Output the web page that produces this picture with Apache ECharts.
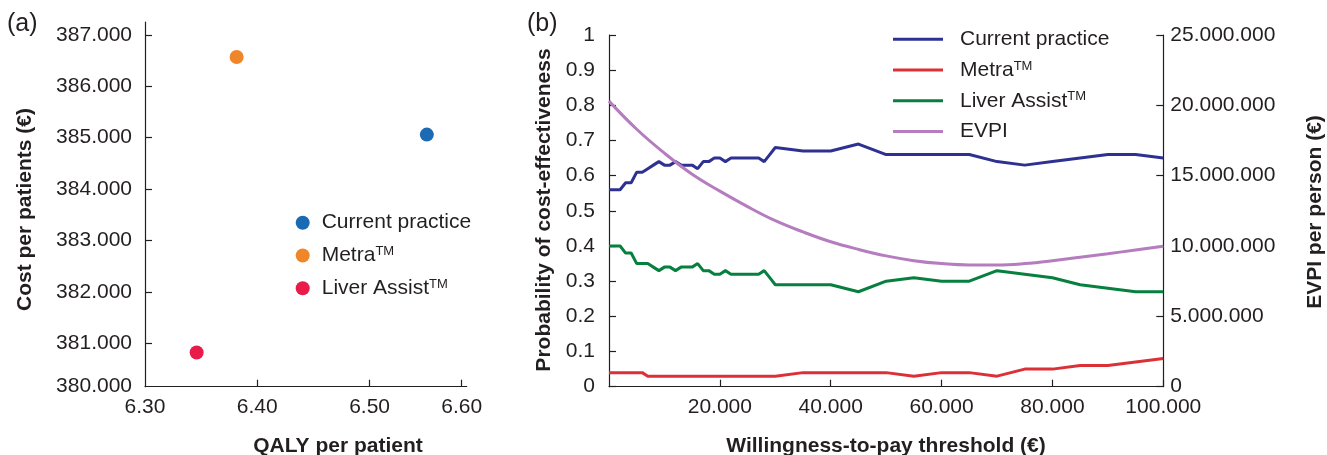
<!DOCTYPE html>
<html>
<head>
<meta charset="utf-8">
<script src="https://cdn.jsdelivr.net/npm/echarts@6/dist/echarts.min.js"></script>
<style>
  html, body { margin: 0; padding: 0; background: #fff; }
  #chart { width: 1327px; height: 455px; }
</style>
</head>
<body>
<div id="chart"></div>
<script>
// ---- panel (a): cost vs QALY ----
const strategies = ['Current practice', 'Metra', 'Liver Assist'];
const qaly = [6.551, 6.3816, 6.346];
const cost = [385060, 386570, 380820];
// tick marks as drawn in the source figure (end ticks sit off the regular step)
const qalyTicks = [6.30, 6.40, 6.50, 6.582];
const qalyTickLabels = ['6.30', '6.40', '6.50', '6.60'];
const costTicks = [380156, 381000, 382000, 383000, 384000, 385000, 386000, 387000];
const costTickLabels = ['380.000', '381.000', '382.000', '383.000', '384.000', '385.000', '386.000', '387.000'];

// ---- panel (b): acceptability curves + EVPI ----
const wtp = [0, 1000, 2000, 3000, 4000, 5000, 6000, 7000, 8000, 9000, 10000,
  11000, 12000, 13000, 14000, 15000, 16000, 17000, 18000, 19000, 20000,
  21000, 22000, 23000, 24000, 25000, 26000, 27000, 28000, 29000, 30000,
  35000, 40000, 45000, 50000, 55000, 60000, 65000, 70000, 75000, 80000,
  85000, 90000, 95000, 100000];
const currentPractice = [0.56, 0.56, 0.56, 0.58, 0.58, 0.61, 0.61, 0.62, 0.63, 0.64, 0.63,
  0.63, 0.64, 0.63, 0.63, 0.63, 0.62, 0.64, 0.64, 0.65, 0.65,
  0.64, 0.65, 0.65, 0.65, 0.65, 0.65, 0.65, 0.64, 0.66, 0.68,
  0.67, 0.67, 0.69, 0.66, 0.66, 0.66, 0.66, 0.64, 0.63, 0.64,
  0.65, 0.66, 0.66, 0.65];
const metra = [0.04, 0.04, 0.04, 0.04, 0.04, 0.04, 0.04, 0.03, 0.03, 0.03, 0.03,
  0.03, 0.03, 0.03, 0.03, 0.03, 0.03, 0.03, 0.03, 0.03, 0.03,
  0.03, 0.03, 0.03, 0.03, 0.03, 0.03, 0.03, 0.03, 0.03, 0.03,
  0.04, 0.04, 0.04, 0.04, 0.03, 0.04, 0.04, 0.03, 0.05, 0.05,
  0.06, 0.06, 0.07, 0.08];
const liverAssist = [0.40, 0.40, 0.40, 0.38, 0.38, 0.35, 0.35, 0.35, 0.34, 0.33, 0.34,
  0.34, 0.33, 0.34, 0.34, 0.34, 0.35, 0.33, 0.33, 0.32, 0.32,
  0.33, 0.32, 0.32, 0.32, 0.32, 0.32, 0.32, 0.33, 0.31, 0.29,
  0.29, 0.29, 0.27, 0.30, 0.31, 0.30, 0.30, 0.33, 0.32, 0.31,
  0.29, 0.28, 0.27, 0.27];
const evpiWtp = [0, 5000, 10000, 15000, 20000, 25000, 30000, 35000, 40000, 45000, 50000,
  55000, 60000, 65000, 70000, 75000, 80000, 85000, 90000, 95000, 100000];
const evpi = [20300000, 18300000, 16600000, 15100000, 13900000, 12800000, 11800000,
  11000000, 10300000, 9760000, 9300000, 8960000, 8750000, 8650000, 8650000,
  8750000, 8950000, 9200000, 9450000, 9720000, 9980000];

const curveNames = ['Current practice', 'Metra', 'Liver Assist', 'EVPI'];
const tmNames = ['Metra', 'Liver Assist'];

const FONT = 'Liberation Sans, Arial, Helvetica, sans-serif';
const INK = '#231f20';
const scatterColors = ['#1a6ab4', '#f0862a', '#e81b4b'];
const lineColors = { 'Current practice': '#2e3192', 'Metra': '#dc3038', 'Liver Assist': '#07803f', 'EVPI': '#b57cbf' };

function dots(v) {
  return String(v).replace(/\B(?=(\d{3})+(?!\d))/g, '.');
}
function pairs(xs, ys) {
  return xs.map((x, i) => [x, ys[i]]);
}
function legendText(name) {
  return tmNames.indexOf(name) >= 0 ? '{n|' + name + '}{s|TM}' : '{n|' + name + '}';
}
const legendRich = {
  n: { fontFamily: FONT, fontSize: 21, color: INK, lineHeight: 21 },
  s: { fontFamily: FONT, fontSize: 13, color: INK, lineHeight: 21, verticalAlign: 'top' }
};

const axisLine = { show: true, lineStyle: { color: INK, width: 1.2 } };
const axisTick = { show: true, inside: true, length: 7, lineStyle: { color: INK, width: 1.2 } };
const labelBase = { color: INK, fontFamily: FONT, fontSize: 21 };

function axisTitle(text, x, y, rotated) {
  return {
    type: 'text', x: x, y: y, rotation: rotated ? Math.PI / 2 : 0,
    style: { text: text, fill: INK, font: 'bold 21px ' + FONT, align: 'center', verticalAlign: 'middle' }
  };
}

// one legend per row so each row sits where the figure puts it
function legendRow(name, color, icon, left, centerY, w, h, gap) {
  return {
    orient: 'vertical', left: left, top: centerY - 10.5, padding: 0,
    icon: icon, itemWidth: w, itemHeight: h, selectedMode: false,
    data: [{ name: name, itemStyle: { color: color } }],
    formatter: legendText,
    textStyle: { color: INK, fontFamily: FONT, fontSize: 21, lineHeight: 21, padding: [0, 0, 0, gap], rich: legendRich }
  };
}

const eChart = echarts.init(document.getElementById('chart'));

let series = strategies.map((s, i) => ({
  name: s,
  type: 'scatter',
  xAxisIndex: 0,
  yAxisIndex: 0,
  symbolSize: 14,
  itemStyle: { color: scatterColors[i], opacity: 1 },
  data: [[qaly[i], cost[i]]]
}));

const curves = [['Current practice', currentPractice], ['Metra', metra], ['Liver Assist', liverAssist]];
curves.forEach(c => {
  series.push({
    name: c[0],
    type: 'line',
    xAxisIndex: 1,
    yAxisIndex: 1,
    showSymbol: false,
    lineStyle: { color: lineColors[c[0]], width: 3 },
    itemStyle: { color: lineColors[c[0]] },
    data: pairs(wtp, c[1])
  });
});
series.push({
  name: 'EVPI',
  type: 'line',
  xAxisIndex: 1,
  yAxisIndex: 2,
  showSymbol: false,
  smooth: 0.4,
  lineStyle: { color: lineColors['EVPI'], width: 3 },
  itemStyle: { color: lineColors['EVPI'] },
  data: pairs(evpiWtp, evpi)
});

const legendA = [222.7, 255.5, 288.3];
const legendB = [39.3, 70, 100.8, 131.6];
let legends = [];
strategies.forEach((s, i) => legends.push(legendRow(s, scatterColors[i], 'circle', 295.7, legendA[i], 14, 14, 7)));
curveNames.forEach((n, i) => legends.push(legendRow(n, lineColors[n], 'rect', 893, legendB[i], 50, 3, 12)));

const option = {
  animation: false,
  backgroundColor: '#fff',
  textStyle: { fontFamily: FONT },
  grid: [
    { left: 145, top: 22, width: 321.7, height: 364.7 },
    { left: 609, top: 35, width: 554.3, height: 351.7 }
  ],
  xAxis: [
    {
      type: 'value', gridIndex: 0, min: 6.3, max: 6.5865,
      axisLine: axisLine, splitLine: { show: false },
      axisTick: Object.assign({}, axisTick, { customValues: qalyTicks.slice(1) }),
      axisLabel: Object.assign({}, labelBase, {
        margin: 10, customValues: qalyTicks,
        formatter: v => qalyTickLabels[qalyTicks.indexOf(v)]
      })
    },
    {
      type: 'value', gridIndex: 1, min: 0, max: 100000, interval: 20000,
      axisLine: axisLine, axisTick: axisTick, splitLine: { show: false },
      axisLabel: Object.assign({}, labelBase, { margin: 10, showMinLabel: false, formatter: v => v === 0 ? '' : dots(v) })
    }
  ],
  yAxis: [
    {
      type: 'value', gridIndex: 0, min: 380156, max: 387250,
      axisLine: axisLine, splitLine: { show: false },
      axisTick: Object.assign({}, axisTick, { customValues: costTicks.slice(1) }),
      axisLabel: Object.assign({}, labelBase, {
        margin: 13, customValues: costTicks,
        formatter: v => costTickLabels[costTicks.indexOf(v)]
      })
    },
    {
      type: 'value', gridIndex: 1, min: 0, max: 1, interval: 0.1,
      axisLine: axisLine, axisTick: axisTick, splitLine: { show: false },
      axisLabel: Object.assign({}, labelBase, { margin: 14 })
    },
    {
      type: 'value', gridIndex: 1, position: 'right', min: 0, max: 25000000, interval: 5000000,
      axisLine: axisLine, axisTick: axisTick, splitLine: { show: false },
      axisLabel: Object.assign({}, labelBase, { margin: 7, formatter: v => dots(v) })
    }
  ],
  legend: legends,
  graphic: [
    { type: 'text', x: 7, y: 24, style: { text: '(a)', fill: INK, font: '25px ' + FONT, verticalAlign: 'middle' } },
    { type: 'text', x: 527, y: 24, style: { text: '(b)', fill: INK, font: '25px ' + FONT, verticalAlign: 'middle' } },
    axisTitle('Cost per patients (€)', 25, 209.5, true),
    axisTitle('QALY per patient', 338, 446, false),
    axisTitle('Probability of cost-effectiveness', 544, 210, true),
    axisTitle('EVPI per person (€)', 1315, 212, true),
    axisTitle('Willingness-to-pay threshold (€)', 886, 446, false)
  ],
  series: series
};

eChart.setOption(option);
</script>
</body>
</html>
